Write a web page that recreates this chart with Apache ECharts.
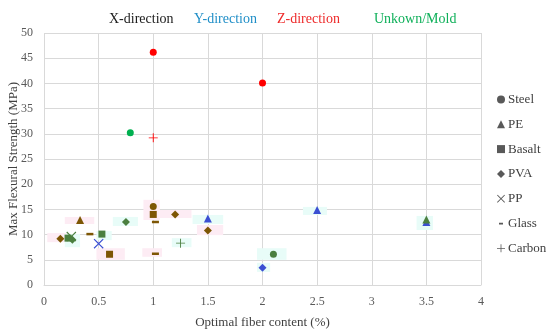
<!DOCTYPE html>
<html>
<head>
<meta charset="utf-8">
<script src="https://cdn.jsdelivr.net/npm/echarts@6/dist/echarts.min.js"></script>
<style>html,body{margin:0;padding:0;background:#fff}#c{width:550px;height:332px}</style>
</head>
<body>
<div id="c"></div>
<script>
// Direction headers
const directions = ['X-direction', 'Y-direction', 'Z-direction', 'Unkown/Mold'];
// Fiber types (legend)
const fibers = ['Steel', 'PE', 'Basalt', 'PVA', 'PP', 'Glass', 'Carbon'];
const xTicks = [0, 0.5, 1, 1.5, 2, 2.5, 3, 3.5, 4];
const yTicks = [0, 5, 10, 15, 20, 25, 30, 35, 40, 45, 50];

// [fiber content %, max flexural strength MPa, colour group]
const steel  = [[1, 15.6, 'X'], [1, 46.2, 'Z'], [2, 40.1, 'Z'], [0.79, 30.2, 'U'], [2.1, 6.1, 'O']];
const pe     = [[0.33, 12.9, 'X'], [1.5, 13.2, 'Y'], [2.5, 14.9, 'Y'], [3.5, 12.5, 'Y'], [3.5, 13.0, 'O']];
const basalt = [[0.6, 6.1, 'X'], [1, 14.0, 'X'], [0.53, 10.1, 'O'], [0.22, 9.3, 'O']];
const pva    = [[0.15, 9.2, 'X'], [1.2, 14.0, 'X'], [1.5, 10.8, 'X'], [0.75, 12.5, 'O'], [2, 3.4, 'Y'], [0.26, 9.0, 'O']];
const pp     = [[0.5, 8.2, 'Y'], [0.25, 9.6, 'O']];
const glass  = [[0.42, 10.1, 'X'], [1.02, 12.5, 'X'], [1.02, 6.2, 'X']];
const carbon = [[1, 29.2, 'Z'], [1.25, 8.3, 'O']];

// highlighted regions behind markers: [x1, y1, x2, y2, kind]
const highlights = [
  [0.03, 8.5, 0.21, 10.3, 'p'], [0.19, 7.5, 0.33, 10.1, 'c'], [0.19, 12.1, 0.46, 13.5, 'p'],
  [0.63, 11.7, 0.86, 13.5, 'c'], [0.48, 8.9, 0.62, 10.7, 'c'], [0.48, 5.0, 0.74, 7.3, 'p'],
  [0.91, 12.9, 1.06, 16.9, 'p'], [1.06, 13.3, 1.35, 14.9, 'p'], [0.9, 5.6, 1.08, 7.3, 'p'],
  [1.17, 7.5, 1.35, 9.3, 'c'], [1.36, 12.1, 1.64, 13.9, 'c'], [1.4, 9.9, 1.64, 11.9, 'p'],
  [1.95, 2.6, 2.07, 4.4, 'c'], [1.95, 5.0, 2.22, 7.3, 'c'], [2.37, 13.9, 2.59, 15.5, 'c'],
  [3.41, 10.9, 3.56, 13.7, 'c']
];

const groupColor = { X: '#7d5604', Y: '#3b4fd2', Z: '#ff0000', U: '#00b050', O: '#4b7f3f' };
const headerColor = ['#1a1a1a', '#1f8ec7', '#ee2b2b', '#0fb05a'];
const hlColor = { p: '#fdecf4', c: '#e8fcf8' };

const xPath = 'path://M0,0.8L0.8,0L5,4.2L9.2,0L10,0.8L5.8,5L10,9.2L9.2,10L5,5.8L0.8,10L0,9.2L4.2,5Z';
const plusPath = 'path://M4.5,0H5.5V4.5H10V5.5H5.5V10H4.5V5.5H0V4.5H4.5Z';
const dashIcon = 'path://M0,0L0.01,0L0,0.01Z M10,10L9.99,10L10,9.99Z M2.5,4H7.5V6.2H2.5Z';

const fiberData = [steel, pe, basalt, pva, pp, glass, carbon];
const symbols = ['circle', 'triangle', 'rect', 'diamond', xPath, 'rect', plusPath];
const sizes = [7, 8, 7, 8, 10, [7, 2.5], 9];

const serif = 'Liberation Serif';
const series = fibers.map((name, i) => ({
  name: name,
  type: 'scatter',
  symbol: symbols[i],
  symbolSize: sizes[i],
  itemStyle: { color: '#595959', opacity: 1 },
  z: 3,
  data: fiberData[i].map(d => ({ value: [d[0], d[1]], itemStyle: { color: groupColor[d[2]] } }))
}));

series.push({
  name: 'hl', type: 'scatter', data: [], silent: true, z: 1,
  markArea: {
    silent: true,
    data: highlights.map(h => [
      { xAxis: h[0], yAxis: h[1], itemStyle: { color: hlColor[h[4]], opacity: 1 } },
      { xAxis: h[2], yAxis: h[3] }
    ])
  }
});

const headerX = [109, 194, 277, 374];
const chart = echarts.init(document.getElementById('c'), null, { renderer: 'canvas' });
chart.setOption({
  animation: false,
  backgroundColor: '#ffffff',
  grid: { left: 44, right: 69, top: 33, bottom: 47, containLabel: false, outerBoundsMode: 'none' },
  xAxis: {
    type: 'value', min: 0, max: 4, interval: 0.5,
    name: 'Optimal fiber content (%)', nameLocation: 'middle', nameGap: 31, nameMoveOverlap: false,
    nameTextStyle: { color: '#404040', fontSize: 13, fontFamily: serif },
    axisLine: { show: true, lineStyle: { color: '#d9d9d9' } },
    axisTick: { show: false },
    axisLabel: { color: '#595959', fontSize: 12, fontFamily: serif, margin: 11 },
    splitLine: { show: true, lineStyle: { color: '#d9d9d9' } }
  },
  yAxis: {
    type: 'value', min: 0, max: 50, interval: 5,
    name: 'Max Flexural Strength (MPa)', nameLocation: 'middle', nameGap: 24, nameMoveOverlap: false,
    nameTextStyle: { color: '#404040', fontSize: 13, fontFamily: serif },
    axisLine: { show: false },
    axisTick: { show: false },
    axisLabel: { color: '#595959', fontSize: 12, fontFamily: serif, margin: 11 },
    splitLine: { show: true, lineStyle: { color: '#d9d9d9' } }
  },
  legend: {
    orient: 'vertical', left: 492, top: 88,
    itemWidth: 8, itemHeight: 8, itemGap: 11.8,
    textStyle: { color: '#404040', fontSize: 13, fontFamily: serif, padding: [0, 0, 0, -2] },
    data: fibers.map((f, i) => i === 5 ? { name: f, icon: dashIcon } : { name: f })
  },
  graphic: directions.map((t, i) => ({
    type: 'text', left: headerX[i], top: 12,
    style: { text: t, fill: headerColor[i], font: '14px "' + serif + '"', textAlign: 'center', textVerticalAlign: 'middle' }
  })),
  series: series
});
</script>
</body>
</html>
